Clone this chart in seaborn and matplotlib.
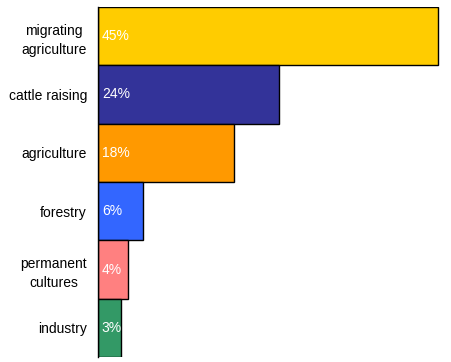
import matplotlib
matplotlib.use("Agg")
import matplotlib.pyplot as plt
import seaborn as sns
import numpy as np

categories = ["migrating\nagriculture", "cattle raising", "agriculture", "forestry", "permanent\ncultures", "industry"]
values = [45, 24, 18, 6, 4, 3]
labels = ["45%", "24%", "18%", "6%", "4%", "3%"]
colors = ["#FFCC00", "#333399", "#FF9900", "#3366FF", "#FF8080", "#339966"]

sns.set_style("white")
plt.rcParams['font.family'] = ['Liberation Sans', 'DejaVu Sans']

fig = plt.figure(figsize=(4.51, 3.62), dpi=100)
ax = fig.add_axes([98/451, 1-357/362, 350/451, 350/362])

sns.barplot(x=values, y=categories, hue=categories, palette=colors, width=1.0,
            edgecolor="black", linewidth=1.0, legend=False, ax=ax, saturation=1)

for i, (v, lab) in enumerate(zip(values, labels)):
    ax.text(0.5, i, lab, color="white", va="center", ha="left", fontsize=10)

ax.set_xlim(0, 350/7.556)
ax.set_ylim(5.5, -0.5)
ax.set_xlabel("")
ax.set_ylabel("")
ax.set_xticks([])
for s in ["top", "right", "bottom"]:
    ax.spines[s].set_visible(False)
ax.spines["left"].set_color("black")
ax.spines["left"].set_linewidth(1.0)
ax.tick_params(axis="y", which="major", length=0, pad=8, labelsize=10, labelcolor="black")
for t in ax.get_yticklabels():
    t.set_multialignment("center")
    t.set_linespacing(1.45)
ax.set_yticks(np.arange(-0.5, 6, 1.0), minor=True)
ax.tick_params(axis="y", which="minor", length=5, width=1, color="black", direction="out")

fig.savefig("out.png", dpi=100)
